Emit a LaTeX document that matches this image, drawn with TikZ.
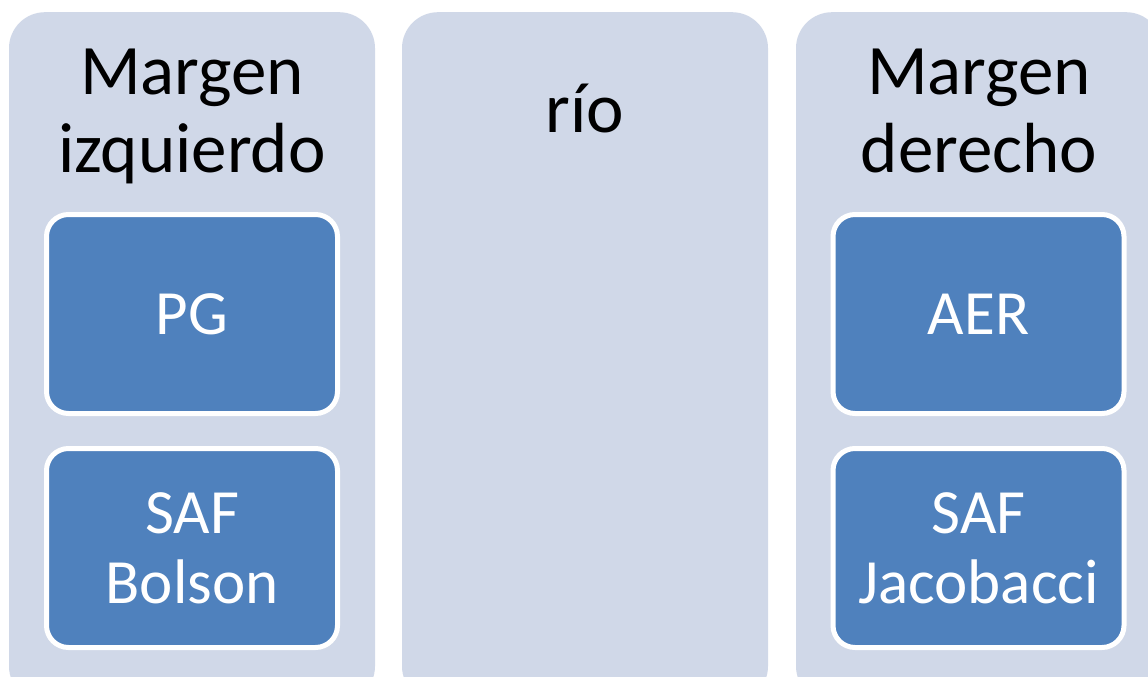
\documentclass[tikz,border=0pt]{standalone}
\usepackage{fontspec}
\setmainfont{Carlito}
\usetikzlibrary{positioning}
\definecolor{bankfill}{HTML}{D0D8E8}
\definecolor{boxfill}{HTML}{4F81BD}
\tikzset{
    column/.style={fill=bankfill,rounded corners=36pt,minimum width=366pt,minimum height=690pt,inner sep=0pt},
    title/.style={align=center,inner sep=0pt,font=\fontsize{71}{78}\selectfont,text=black},
    entity/.style={fill=boxfill,draw=white,line width=5pt,rounded corners=22pt,minimum width=291pt,minimum height=199pt,
        align=center,text=white,font=\fontsize{63}{70}\selectfont}
}
\begin{document}
\begin{tikzpicture}[x=1pt,y=-1pt]
    \clip (0,0) rectangle (1148,677);
    \fill[white] (0,0) rectangle (1148,677);
    \node[column,anchor=north] (leftbank) at (192,12) {};
    \node[column,anchor=north] (river) at (585,12) {};
    \node[column,anchor=north] (rightbank) at (979,12) {};
    \node[title,anchor=north] (lefttitle) at (192,49) {Margen\\izquierdo};
    \node[title,anchor=base] (rivertitle) at (585,132) {río};
    \node[title,anchor=north] (righttitle) at (979,49) {Margen\\derecho};
    \node[entity] (pg) at (192,314) {PG};
    \node[entity] (safbolson) at (192,548) {SAF\\Bolson};
    \node[entity] (aer) at (978.5,314) {AER};
    \node[entity] (safjacobacci) at (978.5,548) {SAF\\Jacobacci};
\end{tikzpicture}
\end{document}
